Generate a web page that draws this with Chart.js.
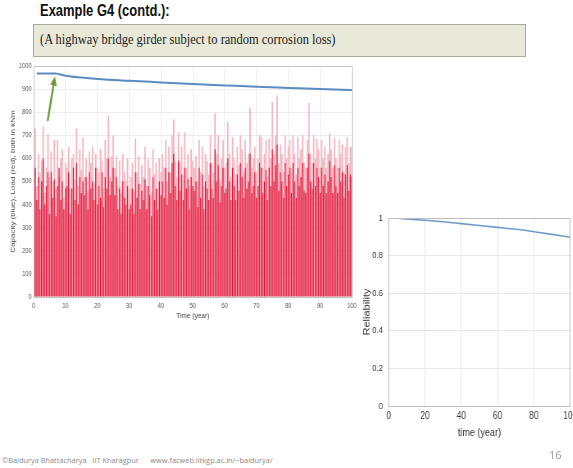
<!DOCTYPE html>
<html>
<head>
<meta charset="utf-8">
<script src="https://cdn.jsdelivr.net/npm/chart.js@4.4.1/dist/chart.umd.min.js"></script>
<style>
  html, body { margin:0; padding:0; background:#fff; overflow:hidden; width:573px; height:468px; }
  #head { position:absolute; left:40px; top:2px; font-family:"Liberation Sans",Arial,sans-serif; font-weight:bold; font-size:16px; color:#111;
          transform:scaleX(0.81); transform-origin:0 0; white-space:nowrap; }
  #sub { position:absolute; left:33px; top:24px; width:493px; height:33px; background:#e9e9da; border:1px solid #a9a9a0; box-sizing:border-box; }
  #sub span { position:absolute; left:6px; top:7px; font-family:"Liberation Serif","Times New Roman",serif; font-size:14px; color:#222;
              transform:scaleX(0.89); transform-origin:0 0; white-space:nowrap; }
  #foot { position:absolute; left:2px; top:455px; font-family:"Open Sans",sans-serif; font-size:7.4px; color:#8a8a8a; white-space:nowrap; }
  #page { position:absolute; left:549px; top:447px; font-family:"Open Sans",sans-serif; font-size:11px; color:#999; }
  canvas { position:absolute; transform:scaleX(0.82); transform-origin:0 0; }
  #loadChart { left:0; top:56px; }
  #relChart { left:340px; top:205px; }
</style>
</head>
<body>
<div id="head">Example G4 (contd.):</div>
<div id="sub"><span>(A highway bridge girder subject to random corrosion loss)</span></div>
<canvas id="loadChart" width="440" height="270"></canvas>
<canvas id="relChart" width="293" height="240"></canvas>
<div id="foot">©Baidurya Bhattacharya &nbsp;&nbsp;IIT Kharagpur &nbsp;&nbsp;&nbsp;&nbsp;&nbsp;www.facweb.iitkgp.ac.in/~baidurya/</div>
<div id="page">16</div>

<script>
// load samples, one every half year (0.5 ... 100)
const loadStep = 0.5;
// light pink (upper) part of the load bars
const loadPeak = [
  730,480,620,540,590,739,450,560,705,520,
  630,500,680,470,680,520,600,640,430,580,
  560,650,470,600,620,510,729,480,640,550,
  690,520,600,460,630,580,650,490,620,560,
  540,640,590,470,680,600,787,520,610,700,
  560,610,480,590,450,620,540,500,600,470,
  520,580,460,686,540,610,490,570,520,650,
  480,600,560,450,640,530,580,470,600,540,
  620,560,680,500,650,540,700,768,590,520,
  713,580,650,530,713,560,620,480,640,590,
  560,610,500,680,540,650,480,620,590,530,
  700,580,540,794,620,700,510,600,680,560,
  580,758,620,520,690,600,530,650,570,700,
  640,540,680,580,620,820,560,600,650,540,
  600,700,693,560,620,680,520,685,600,844,
  620,700,873,580,660,620,540,700,600,650,
  680,560,700,620,530,690,600,640,700,580,
  560,680,840,620,580,700,600,686,640,560,
  680,600,650,560,620,708,640,560,690,600,
  560,680,620,660,540,650,690,580,650,650
];
// saturated red (lower) part of the load bars
const loadBase = [
  560,420,520,380,500,600,400,480,540,360,
  540,430,510,350,480,560,420,500,380,470,
  480,540,360,470,560,420,580,400,520,450,
  500,440,520,380,540,470,500,420,560,400,
  480,430,540,390,520,470,600,440,500,560,
  440,520,380,470,360,500,430,400,480,380,
  400,470,360,540,430,490,380,460,420,510,
  380,480,440,350,520,420,470,380,500,440,
  500,430,560,400,540,450,580,620,480,420,
  590,460,530,420,560,470,510,380,520,480,
  460,500,390,560,430,530,380,500,470,420,
  580,470,430,640,500,570,410,480,560,450,
  470,600,500,420,560,480,420,530,460,580,
  520,430,560,470,500,620,450,480,540,430,
  480,580,560,450,500,550,420,560,480,640,
  500,570,660,460,540,500,430,580,480,530,
  560,450,580,500,430,560,480,520,580,460,
  450,560,620,500,470,580,480,560,520,450,
  560,480,530,450,500,590,520,450,570,480,
  450,560,500,540,430,530,570,460,530,520
];

// capacity (blue)
const capYears  = [1, 3, 5, 7, 8, 10, 15, 20, 30, 40, 50, 60, 70, 80, 90, 100];
const capValues = [968, 968, 968, 968, 964, 958, 950, 944, 936, 929, 922, 916, 910, 905, 900, 896];

// arrow annotation [year, kNm]
const arrowFrom = [4.4, 762];
const arrowTo   = [6.7, 955];

// reliability
const relYears  = [0, 5, 10, 20, 30, 40, 50, 60, 70, 80, 90, 100];
const relValues = [1, 0.999, 0.995, 0.988, 0.98, 0.97, 0.96, 0.95, 0.94, 0.927, 0.913, 0.898];

const toPts = (xs, ys) => ys.map((y, i) => ({ x: xs[i], y }));
const loadPts = arr => arr.map((y, i) => ({ x: (i + 1) * loadStep, y }));

const boxPlugin = {
  id: 'box',
  afterDraw(chart, args, opts) {
    const a = chart.chartArea, c = chart.ctx;
    c.save();
    c.strokeStyle = opts.color || '#bbb';
    c.lineWidth = 1;
    c.strokeRect(Math.round(a.left) + 0.5, Math.round(a.top) + 0.5, Math.round(a.right - a.left), Math.round(a.bottom - a.top));
    c.restore();
  }
};

const arrowPlugin = {
  id: 'arrow',
  afterDatasetsDraw(chart) {
    const xs = chart.scales.x, ys = chart.scales.y, c = chart.ctx;
    const x0 = xs.getPixelForValue(arrowFrom[0]), y0 = ys.getPixelForValue(arrowFrom[1]);
    const x1 = xs.getPixelForValue(arrowTo[0]),   y1 = ys.getPixelForValue(arrowTo[1]);
    const ang = Math.atan2(y1 - y0, x1 - x0);
    c.save();
    c.strokeStyle = '#6f9a3c';
    c.fillStyle = '#6f9a3c';
    c.lineWidth = 2.4;
    c.beginPath(); c.moveTo(x0, y0); c.lineTo(x1 - 6 * Math.cos(ang), y1 - 6 * Math.sin(ang)); c.stroke();
    c.beginPath();
    c.moveTo(x1, y1);
    c.lineTo(x1 - 10 * Math.cos(ang - 0.42), y1 - 10 * Math.sin(ang - 0.42));
    c.lineTo(x1 - 10 * Math.cos(ang + 0.42), y1 - 10 * Math.sin(ang + 0.42));
    c.closePath(); c.fill();
    c.restore();
  }
};

Chart.defaults.font.family = '"Liberation Sans", Arial, sans-serif';
Chart.defaults.animation = false;

new Chart(document.getElementById('loadChart'), {
  type: 'bar',
  data: {
    datasets: [
      { type: 'line', data: toPts(capYears, capValues), borderColor: '#5a8cc4', borderWidth: 2,
        pointRadius: 0, cubicInterpolationMode: 'monotone', order: 0 },
      { data: loadPts(loadBase), backgroundColor: '#e3173a', grouped: false,
        barPercentage: 0.65, categoryPercentage: 1, order: 1 },
      { data: loadPts(loadPeak), backgroundColor: '#f3b3bf', grouped: false,
        barPercentage: 0.9, categoryPercentage: 1, order: 2 }
    ]
  },
  options: {
    responsive: false,
    layout: { padding: { top: 10, right: 10.7, left: 0, bottom: 0 } },
    plugins: { legend: { display: false }, tooltip: { enabled: false }, box: { color: '#c4c4c4' } },
    scales: {
      x: {
        type: 'linear', min: 0, max: 100, offset: false,
        afterFit: s => { s.height = 29; },
        ticks: { stepSize: 10, font: { size: 7 }, color: '#555', maxRotation: 0, padding: 5, callback: v => String(v) },
        grid: { color: '#ececec', offset: false, drawTicks: false },
        border: { display: false },
        title: { display: true, text: 'Time (year)', font: { size: 8 }, color: '#444', padding: { top: 0, bottom: 5 } }
      },
      y: {
        min: 0, max: 1000,
        afterFit: s => { s.width = 41; },
        ticks: { stepSize: 100, font: { size: 7 }, color: '#555', padding: 2.4, callback: v => String(v) },
        grid: { color: '#ececec', drawTicks: false },
        border: { display: false },
        title: { display: true, text: 'Capacity (blue), Load (red), both in kNm', font: { size: 8 }, color: '#444', padding: { top: 11, bottom: 0 } }
      }
    }
  },
  plugins: [boxPlugin, arrowPlugin]
});

new Chart(document.getElementById('relChart'), {
  type: 'line',
  data: {
    datasets: [
      { data: toPts(relYears, relValues), borderColor: '#6e9cc9', borderWidth: 1.6,
        pointRadius: 0, cubicInterpolationMode: 'monotone' }
    ]
  },
  options: {
    responsive: false,
    layout: { padding: { top: 13, right: 10, left: 0, bottom: 0 } },
    plugins: { legend: { display: false }, tooltip: { enabled: false }, box: { color: '#bdbdbd' } },
    scales: {
      x: {
        type: 'linear', min: 0, max: 100,
        afterFit: s => { s.height = 39; },
        ticks: { stepSize: 20, font: { size: 10 }, color: '#333', maxRotation: 0, padding: 4, callback: v => String(v) },
        grid: { color: '#e6e6e6', drawTicks: false },
        border: { display: false },
        title: { display: true, text: 'time (year)', font: { size: 11 }, color: '#333', padding: { top: 0, bottom: 5 } }
      },
      y: {
        min: 0, max: 1,
        afterFit: s => { s.width = 59.4; },
        ticks: { stepSize: 0.2, font: { size: 9.5 }, color: '#333', padding: 7, callback: v => String(+v.toFixed(1)) },
        grid: { color: '#e6e6e6', drawTicks: false },
        border: { display: false },
        title: { display: true, text: 'Reliability', font: { size: 11 }, color: '#333', padding: { top: 26, bottom: 0 } }
      }
    }
  },
  plugins: [boxPlugin]
});
</script>
</body>
</html>
